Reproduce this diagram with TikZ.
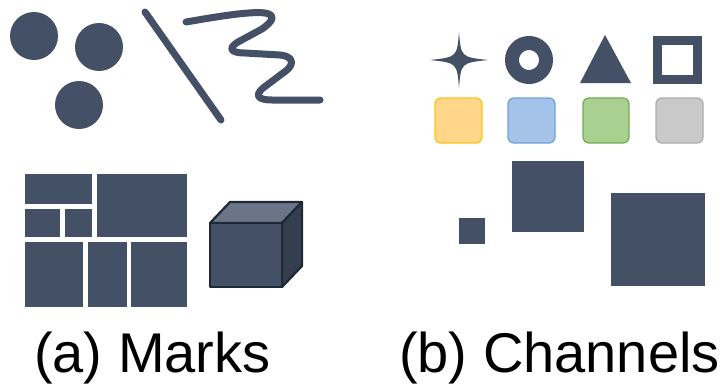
\documentclass[tikz,border=0pt]{standalone}
\usepackage{fontspec}
\setmainfont{Liberation Sans}
\definecolor{slate}{HTML}{435066}
\definecolor{slatedark}{HTML}{333E4F}
\definecolor{slatelight}{HTML}{6A7688}
\definecolor{edge}{HTML}{1F2935}
\definecolor{orfill}{HTML}{FFD68A}
\definecolor{oredge}{HTML}{FFC21A}
\definecolor{blfill}{HTML}{A5C3E8}
\definecolor{bledge}{HTML}{6FA3DA}
\definecolor{grfill}{HTML}{A9CF91}
\definecolor{gredge}{HTML}{74AE50}
\definecolor{gyfill}{HTML}{C9C9C9}
\definecolor{gyedge}{HTML}{ABABAB}
\tikzset{
  markfill/.style={fill=slate},
  stroke/.style={draw=slate, line width=7, line cap=round, line join=round},
  swatch/.style={rounded corners=6, line width=1.3},
  caption/.style={anchor=base west, inner sep=0, font=\fontsize{56}{60}\selectfont}
}
\begin{document}
\begin{tikzpicture}[x=1pt,y=-1pt]
\useasboundingbox (0,0) rectangle (723,383);

% --- marks: points
\fill[markfill] (34,36) circle (24);
\fill[markfill] (99,47) circle (24);
\fill[markfill] (79,105) circle (24);

% --- marks: lines
\draw[stroke] (145,12) -- (221,120);
\draw[stroke] (186,22) .. controls (215,17) and (250,11) .. (265,13)
  .. controls (277,15) and (272,22) .. (262,29)
  -- (238,42)
  .. controls (228,48) and (230,53) .. (245,53)
  -- (280,55)
  .. controls (292,56) and (295,63) .. (287,70)
  -- (263,88)
  .. controls (255,95) and (257,100) .. (272,100)
  -- (320,100);

% --- marks: areas (treemap)
\fill[markfill] (25,174) rectangle (92,204);
\fill[markfill] (25,209) rectangle (60,237);
\fill[markfill] (65,209) rectangle (92,237);
\fill[markfill] (97,174) rectangle (187,237);
\fill[markfill] (25,242) rectangle (83,307);
\fill[markfill] (88,242) rectangle (127,307);
\fill[markfill] (131,242) rectangle (187,307);

% --- marks: volume (cube)
\begin{scope}[draw=edge, line width=2.2, line join=round]
  \filldraw[fill=slatelight] (210,223) -- (230,202) -- (302,202) -- (282,223) -- cycle;
  \filldraw[fill=slatedark] (282,223) -- (302,202) -- (302,266) -- (282,287) -- cycle;
  \filldraw[fill=slate] (210,223) rectangle (282,287);
\end{scope}

% --- channels: shape
\fill[markfill] (459,32) .. controls (461,57) .. (488,60)
  .. controls (461,63) .. (459,88)
  .. controls (457,63) .. (430,60)
  .. controls (457,57) .. (459,32) -- cycle;
\draw[draw=slate, line width=14] (529,60) circle (17);
\fill[markfill] (605,35) -- (631,83) -- (580,83) -- cycle;
\draw[draw=slate, line width=9] (657.5,40.5) rectangle (697.5,79.5);

% --- channels: colour
\filldraw[swatch, fill=orfill, draw=oredge] (435,98) rectangle (482,143);
\filldraw[swatch, fill=blfill, draw=bledge] (508,98) rectangle (555,143);
\filldraw[swatch, fill=grfill, draw=gredge] (583,98) rectangle (629,143);
\filldraw[swatch, fill=gyfill, draw=gyedge] (656,98) rectangle (703,143);

% --- channels: size
\fill[markfill] (459,218) rectangle (485,244);
\fill[markfill] (512,161) rectangle (584,232);
\fill[markfill] (611,193) rectangle (705,286);

% --- captions
\node[caption] (capA) at (34,372) {(a) Marks};
\node[caption] (capB) at (399,372) {(b) Channels};
\end{tikzpicture}
\end{document}
